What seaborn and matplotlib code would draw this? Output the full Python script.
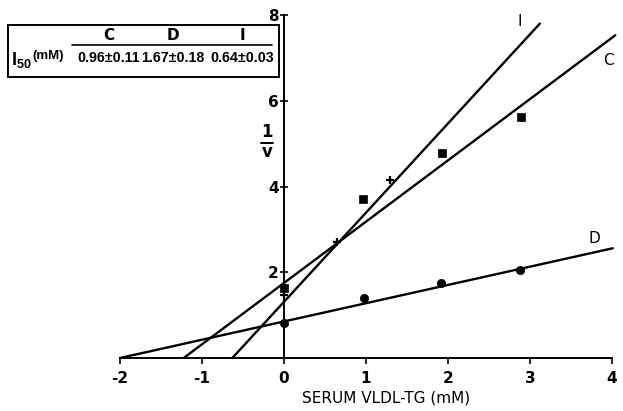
import numpy as np
import pandas as pd
import seaborn as sns
import matplotlib.pyplot as plt
from matplotlib.patches import Rectangle
from matplotlib.lines import Line2D

sns.set_theme(style="white")
plt.rcParams['font.family'] = ['DejaVu Sans']
plt.rcParams['mathtext.default'] = 'regular'
plt.rcParams['axes.unicode_minus'] = False
plt.rcParams['text.color'] = 'black'
plt.rcParams['xtick.color'] = 'black'
plt.rcParams['ytick.color'] = 'black'

# points
c_x = [0, 0.96, 1.93, 2.89]
c_y = [1.63, 3.72, 4.77, 5.63]
d_x = [0, 0.98, 1.92, 2.88]
d_y = [0.81, 1.40, 1.74, 2.05]
i_x = [0, 0.65, 1.29]
i_y = [1.47, 2.70, 4.16]

# fitted lines: slope, intercept, x range
series = ["I", "C", "D"]
slopes = [2.08, 1.43, 0.426]
intercepts = [1.31, 1.75, 0.852]
x_start = [-0.63, -1.22, -2.0]
x_end = [3.12, 4.04, 4.01]

# I50 table
tab_cols = ["C", "D", "I"]
tab_vals = ["0.96±0.11", "1.67±0.18", "0.64±0.03"]

rows = []
for s, m, b, x0, x1 in zip(series, slopes, intercepts, x_start, x_end):
    for xv in (x0, x1):
        rows.append({"series": s, "x": xv, "y": m * xv + b})
lines = pd.DataFrame(rows)

fig = plt.figure(figsize=(6.23, 4.11), dpi=100)
ax = fig.add_axes([120 / 623, 53 / 411, 492 / 623, 343 / 411])

sns.lineplot(data=lines, x="x", y="y", units="series", estimator=None,
             color="black", lw=1.7, ax=ax, clip_on=False)
sns.scatterplot(x=c_x, y=c_y, marker="s", s=38, color="black", ax=ax,
                edgecolor="black", zorder=5, clip_on=False)
sns.scatterplot(x=d_x, y=d_y, marker="o", s=36, color="black", ax=ax,
                edgecolor="black", zorder=5, clip_on=False)
sns.scatterplot(x=i_x, y=i_y, marker="+", s=30, color="black", ax=ax,
                linewidth=1.6, zorder=5, clip_on=False)

ax.set_xlim(-2, 4)
ax.set_ylim(0, 8)
ax.set_xlabel("")
ax.set_ylabel("")
ax.set_facecolor("none")
ax.spines["top"].set_visible(False)
ax.spines["right"].set_visible(False)
ax.spines["left"].set_position(("data", 0))
for sp in ("left", "bottom"):
    ax.spines[sp].set_linewidth(1.4)
    ax.spines[sp].set_color("black")

ax.set_xticks([-2, -1, 0, 1, 2, 3, 4])
ax.set_yticks([2, 4, 6, 8])
ax.tick_params(axis="x", direction="out", length=4, width=1.2, color="black",
               labelsize=11, pad=5, bottom=True)
ax.tick_params(axis="y", direction="inout", length=6, width=1.2, color="black",
               labelsize=11, pad=1, left=True)
for lab in ax.get_xticklabels() + ax.get_yticklabels():
    lab.set_fontweight("bold")

# line labels
ax.text(2.87, 7.84, "I", fontsize=11, ha="center", va="center")
ax.text(3.96, 6.93, "C", fontsize=11, ha="center", va="center")
ax.text(3.78, 2.79, "D", fontsize=11, ha="center", va="center")

# 1/v axis label
fig.text(267 / 623, 1 - 132 / 411, "1", fontsize=12, fontweight="bold",
         ha="center", va="center")
fig.add_artist(Line2D([261 / 623, 273 / 623], [1 - 143 / 411, 1 - 143 / 411],
                      color="black", lw=1.4))
fig.text(267 / 623, 1 - 152 / 411, "v", fontsize=12, fontweight="bold",
         ha="center", va="center")

fig.text(386 / 623, 1 - 398 / 411, "SERUM VLDL-TG (mM)", fontsize=11,
         ha="center", va="center")

# I50 table box
narrow = ["Liberation Sans Narrow", "Liberation Sans"]
fig.add_artist(Rectangle((8 / 623, 1 - 77 / 411), 271 / 623, 52 / 411,
                         transform=fig.transFigure, fill=False,
                         edgecolor="black", lw=1.4))
fig.add_artist(Line2D([72 / 623, 272 / 623], [1 - 45 / 411, 1 - 45 / 411],
                      color="black", lw=1.2))
col_x = [109, 173, 242]
for cx, name, val in zip(col_x, tab_cols, tab_vals):
    fig.text(cx / 623, 1 - 36 / 411, name, fontsize=11, ha="center",
             va="center", fontweight="bold")
    fig.text(cx / 623, 1 - 58 / 411, val, fontsize=10.3, ha="center",
             va="center", family=narrow, fontweight="bold")
fig.text(11 / 623, 1 - 60 / 411, r"$I_{50}$", fontsize=13, ha="left",
         va="center", family=narrow, fontweight="bold")
fig.text(32 / 623, 1 - 56 / 411, "(mM)", fontsize=9.5, ha="left",
         va="center", family=narrow, fontweight="bold")

fig.savefig("out.png", dpi=100)
